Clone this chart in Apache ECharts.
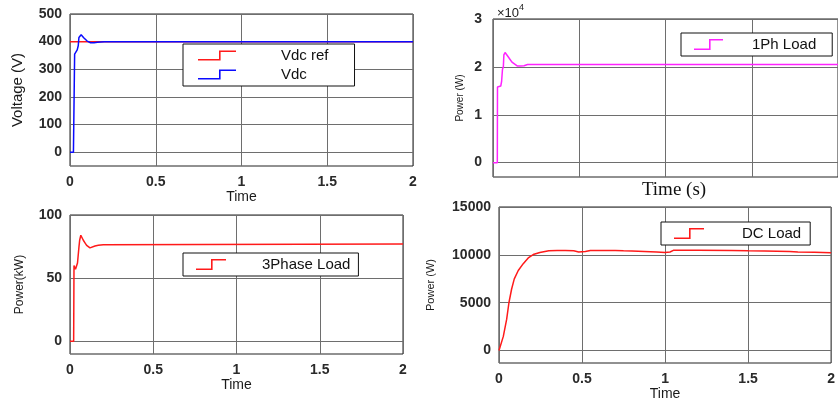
<!DOCTYPE html>
<html>
<head>
<meta charset="utf-8">
<script src="https://cdn.jsdelivr.net/npm/echarts@6/dist/echarts.min.js"></script>
<style>
  html, body { margin: 0; padding: 0; background: #fff; }
  #chart { width: 838px; height: 406px; }
</style>
</head>
<body>
<div id="chart"></div>
<script>
// ---- DC-link voltage (V) ----
const vdcRefTime = [0, 2];
const vdcRefValues = [400, 400];
const vdcTime = [0, 0.02, 0.025, 0.027, 0.035, 0.038, 0.042, 0.048, 0.052, 0.058, 0.065, 0.072, 0.08, 0.09, 0.1, 0.11, 0.12, 0.13, 0.14, 0.16, 0.18, 0.2, 2];
const vdcValues = [0, 0, 0, 355, 358, 362, 370, 385, 415, 422, 425, 420, 414, 408, 402, 398, 396, 395, 396, 398, 399, 400, 400];

// ---- single-phase load power (W) ----
const ph1Time = [0, 0.025, 0.026, 0.035, 0.045, 0.05, 0.055, 0.06, 0.063, 0.07, 0.078, 0.09, 0.1, 0.11, 0.12, 0.14, 0.16, 0.18, 0.2, 2];
const ph1Values = [0, 0, 15800, 15900, 16000, 17000, 19500, 20000, 22500, 23000, 22800, 22000, 21500, 21000, 20600, 20200, 20200, 20250, 20500, 20500];

// ---- three-phase load power (kW) ----
const ph3Time = [0, 0.022, 0.024, 0.03, 0.033, 0.04, 0.045, 0.05, 0.054, 0.058, 0.065, 0.07, 0.08, 0.09, 0.1, 0.11, 0.12, 0.13, 0.15, 0.17, 0.2, 0.21, 2];
const ph3Values = [0, 0, 60, 61, 57, 58, 62, 62, 75, 80, 84, 83, 80, 78, 76, 74.5, 74, 74.3, 75.5, 76, 76.5, 77, 77];

// ---- DC load power (W) ----
const dcTime = [0, 0.005, 0.026, 0.046, 0.06, 0.076, 0.092, 0.116, 0.146, 0.176, 0.206, 0.246, 0.3, 0.35, 0.4, 0.45, 0.48, 0.52, 0.55, 0.7, 0.75, 0.8, 0.95, 1.0, 1.03, 1.05, 1.2, 1.4, 1.5, 1.6, 1.75, 1.8, 1.9, 2.0];
const dcValues = [0, 150, 1480, 3250, 5020, 6430, 7490, 8370, 9080, 9680, 10030, 10240, 10420, 10450, 10450, 10420, 10300, 10350, 10450, 10450, 10420, 10400, 10300, 10250, 10300, 10470, 10470, 10450, 10420, 10400, 10350, 10300, 10280, 10220];

// ---- axis ticks ----
const vdcTicks = [0, 100, 200, 300, 400, 500];
const ph1Ticks = [0, 10000, 20000, 30000];
const ph3Ticks = [0, 50, 100];
const dcTicks = [0, 5000, 10000, 15000];

const pairs = (xs, ys) => xs.map((x, i) => [x, ys[i]]);

const FONT = 'Liberation Sans, Arial, sans-serif';
const GRID_LINE = { show: true, lineStyle: { color: '#6e6e6e', width: 1 } };
const TICK_FONT = { fontFamily: FONT, fontSize: 14, fontWeight: 'bold', color: '#2a2a2a' };

// Step-shaped legend glyph, drawn as a thin filled outline
function stepIcon(w, h, rise) {
  const t = 1.6;
  return 'path://M0,' + (h - t) + ' L' + rise + ',' + (h - t) + ' L' + rise + ',0 L' + w + ',0 L' + w + ',' + t +
    ' L' + (rise + t) + ',' + t + ' L' + (rise + t) + ',' + h + ' L0,' + h + ' Z';
}

function timeAxis(grid, showLabels, name, nameGap, nameStyle) {
  return {
    type: 'value', gridIndex: grid, min: 0, max: 2, interval: 0.5,
    axisLine: { show: false }, axisTick: { show: false },
    axisLabel: Object.assign({ show: showLabels, margin: 9 }, TICK_FONT),
    splitLine: GRID_LINE,
    name: name, nameLocation: 'middle', nameGap: nameGap,
    nameTextStyle: Object.assign({ fontFamily: FONT, fontSize: 14, color: '#1a1a1a' }, nameStyle || {})
  };
}

function valueAxis(grid, min, max, ticks, fmt, name, nameGap, nameSize, margin) {
  return {
    type: 'value', gridIndex: grid, min: min, max: max,
    axisLine: { show: false },
    axisTick: { show: false, customValues: ticks },
    axisLabel: Object.assign({ customValues: ticks, formatter: fmt, margin: margin }, TICK_FONT),
    splitLine: GRID_LINE,
    name: name, nameLocation: 'middle', nameGap: nameGap,
    nameTextStyle: { fontFamily: FONT, fontSize: nameSize, color: '#1a1a1a' }
  };
}

function legendBox(names, left, top, padding, iw, ih, rise, textPad, gap) {
  return {
    data: names, orient: 'vertical', left: left, top: top, padding: padding,
    itemWidth: iw, itemHeight: ih, itemGap: gap || 2,
    icon: stepIcon(iw, ih, rise),
    borderColor: '#111', borderWidth: 1, backgroundColor: '#fff',
    selectedMode: false,
    textStyle: { fontFamily: FONT, fontSize: 15, color: '#111', lineHeight: 17, padding: [0, 0, 0, textPad] }
  };
}

function lineSeries(name, color, xi, data) {
  return {
    name: name, type: 'line', xAxisIndex: xi, yAxisIndex: xi,
    data: data, showSymbol: false, symbol: 'none',
    lineStyle: { color: color, width: 1.5 }, itemStyle: { color: color },
    animation: false
  };
}

const chart = echarts.init(document.getElementById('chart'), null, { renderer: 'canvas' });

chart.setOption({
  backgroundColor: '#fff',
  animation: false,
  grid: [
    { left: 70, top: 14, width: 343, height: 152, show: true, borderColor: '#222', borderWidth: 1, backgroundColor: '#fff' },
    { left: 493, top: 19, width: 347, height: 158, show: true, borderColor: '#222', borderWidth: 1, backgroundColor: '#fff' },
    { left: 70, top: 215, width: 333, height: 139, show: true, borderColor: '#222', borderWidth: 1, backgroundColor: '#fff' },
    { left: 499, top: 207, width: 333, height: 156, show: true, borderColor: '#222', borderWidth: 1, backgroundColor: '#fff' }
  ],
  xAxis: [
    timeAxis(0, true, 'Time', 24),
    timeAxis(1, false, 'Time (s)', 4, { fontFamily: 'Liberation Serif, Times New Roman, serif', fontSize: 19, color: '#111', padding: [0, 0, 0, 17] }),
    timeAxis(2, true, 'Time', 24),
    timeAxis(3, true, 'Time', 23)
  ],
  yAxis: [
    valueAxis(0, -50, 500, vdcTicks, v => String(v), 'Voltage (V)', 45, 15, 8),
    valueAxis(1, -3000, 30000, ph1Ticks, v => String(v / 10000), 'Power (W)', 28, 10, 11),
    valueAxis(2, -10, 100, ph3Ticks, v => String(v), 'Power(kW)', 44, 12, 8),
    valueAxis(3, -1300, 15000, dcTicks, v => String(v), 'Power (W)', 63, 11, 8)
  ],
  legend: [
    legendBox(['Vdc ref', 'Vdc'], 183, 44, [3, 26, 3, 15], 38, 10, 21, 40, 2),
    legendBox(['1Ph Load'], 681, 33, [3, 16, 3, 13], 29, 11, 15, 24),
    legendBox(['3Phase Load'], 183, 253, [3, 8, 3, 13], 30, 11, 15, 31),
    legendBox(['DC Load'], 661, 222, [3, 9, 3, 13], 30, 11, 15, 33)
  ],
  graphic: [
    {
      type: 'text', left: 497, top: 3,
      style: {
        text: '{a|×10}{b|4}',
        rich: {
          a: { fontFamily: FONT, fontSize: 13, fill: '#1a1a1a', lineHeight: 17, verticalAlign: 'bottom' },
          b: { fontFamily: FONT, fontSize: 9, fill: '#1a1a1a', lineHeight: 17, verticalAlign: 'top' }
        }
      }
    }
  ],
  series: [
    lineSeries('Vdc ref', '#ff1a1a', 0, pairs(vdcRefTime, vdcRefValues)),
    lineSeries('Vdc', '#0a0aff', 0, pairs(vdcTime, vdcValues)),
    lineSeries('1Ph Load', '#ff22ff', 1, pairs(ph1Time, ph1Values)),
    lineSeries('3Phase Load', '#ff1a1a', 2, pairs(ph3Time, ph3Values)),
    lineSeries('DC Load', '#ff1a1a', 3, pairs(dcTime, dcValues))
  ]
});
</script>
</body>
</html>
